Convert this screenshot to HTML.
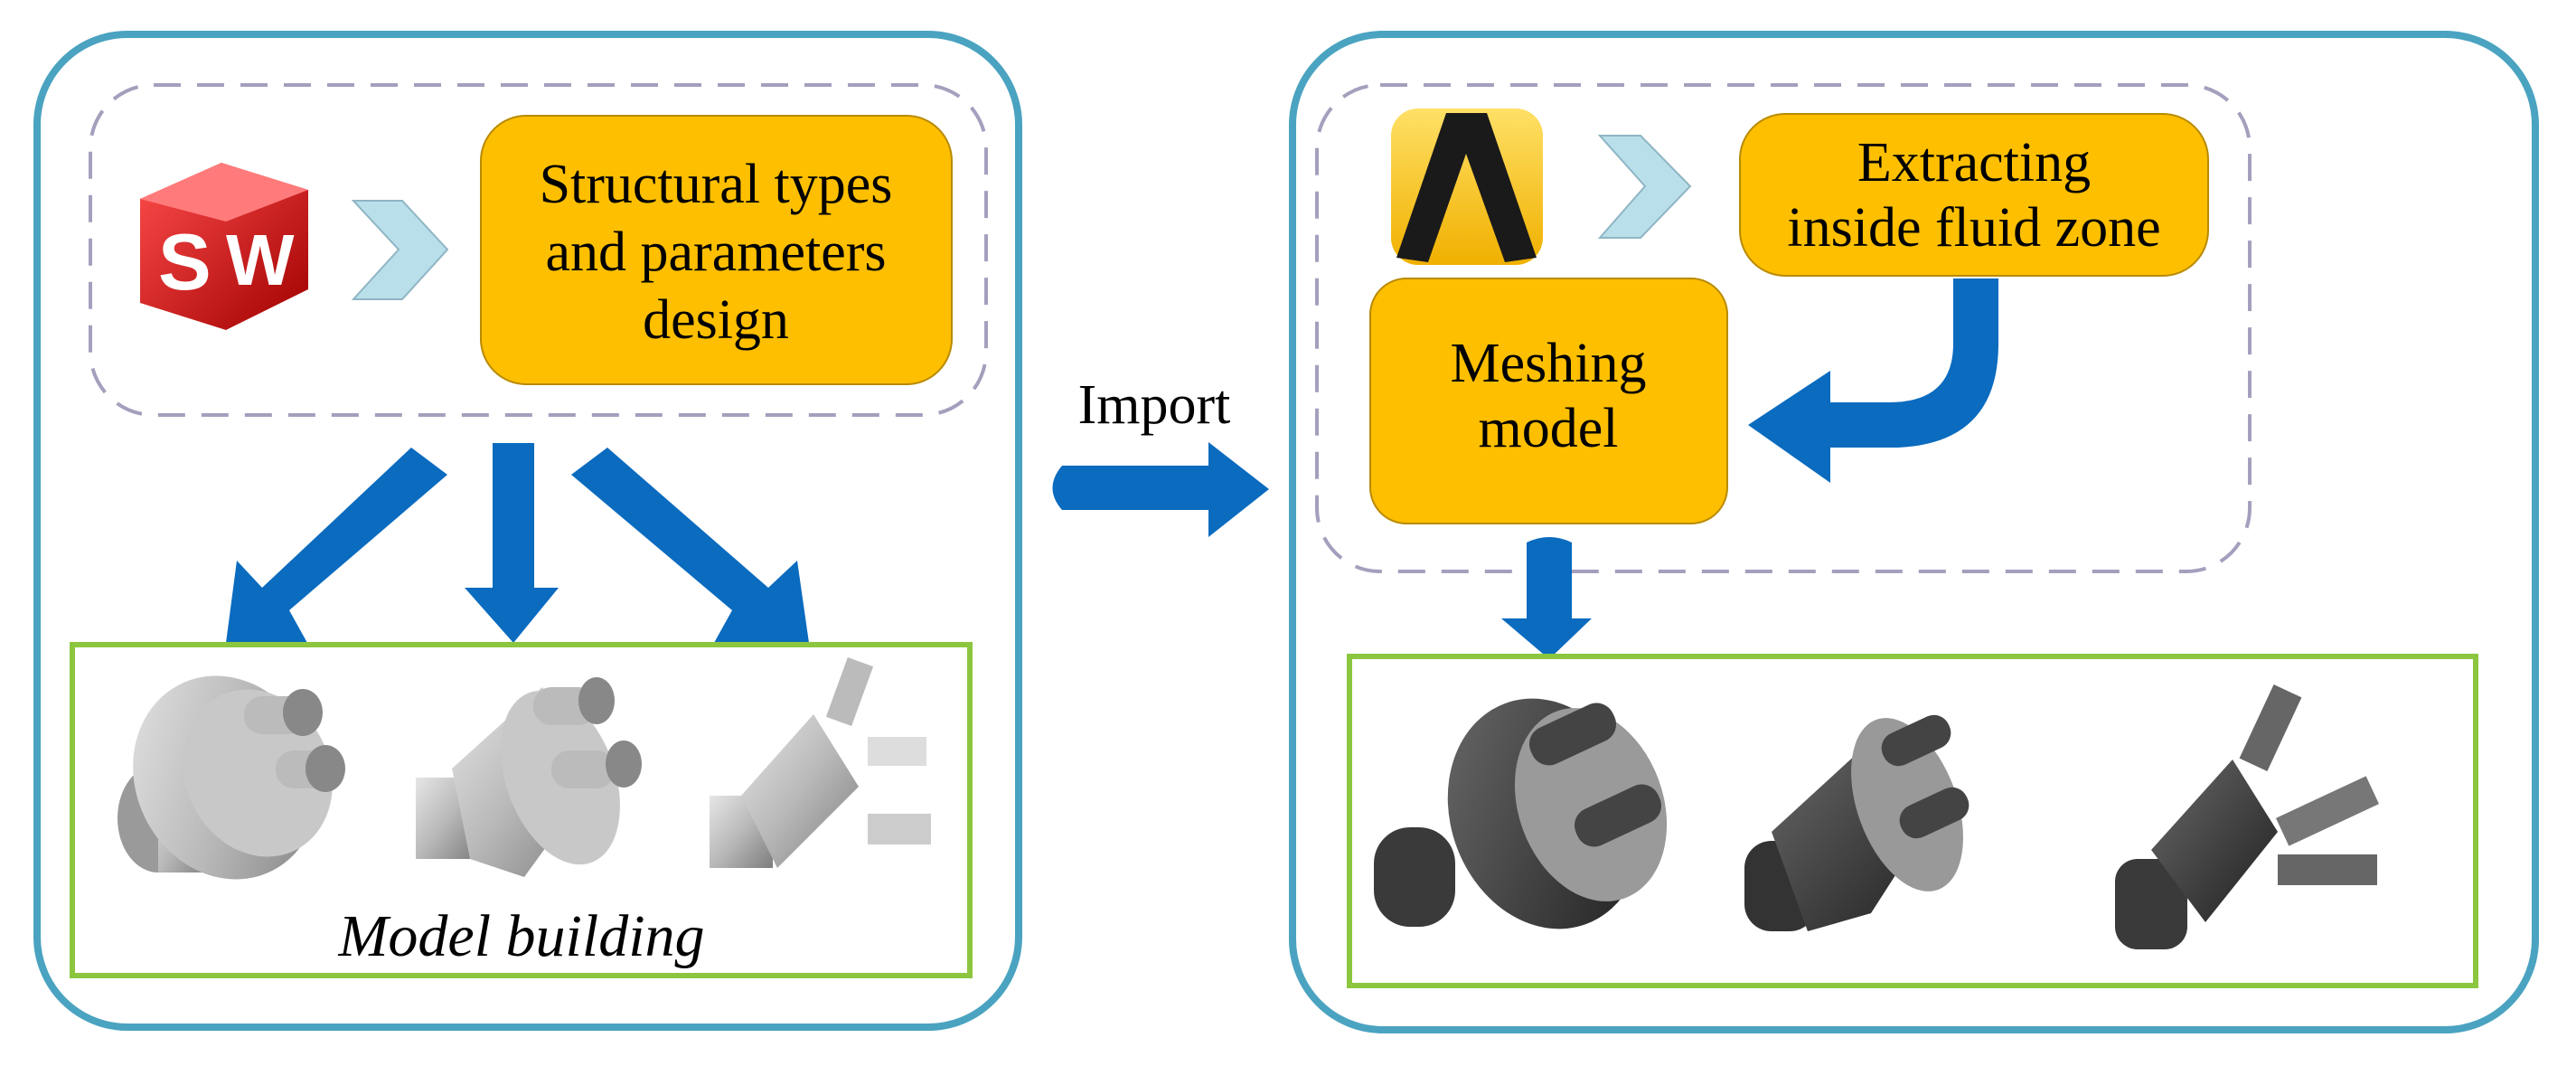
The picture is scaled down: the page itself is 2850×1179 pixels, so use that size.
<!DOCTYPE html>
<html><head><meta charset="utf-8"><style>
html,body{margin:0;padding:0;background:#fff;}
svg{display:block;}
text{font-family:"Liberation Serif",serif;fill:#000;}
</style></head><body>
<svg width="2850" height="1179" viewBox="0 0 2850 1179" xmlns="http://www.w3.org/2000/svg">
<defs>
<linearGradient id="g1" x1="0" y1="0" x2="1" y2="1"><stop offset="0" stop-color="#e6e6e6"/><stop offset="0.5" stop-color="#b9b9b9"/><stop offset="1" stop-color="#7d7d7d"/></linearGradient>
<linearGradient id="g2" x1="0" y1="0" x2="1" y2="1"><stop offset="0" stop-color="#6a6a6a"/><stop offset="1" stop-color="#1e1e1e"/></linearGradient>
<linearGradient id="sw" x1="0" y1="0" x2="1" y2="1"><stop offset="0" stop-color="#ff4d4d"/><stop offset="1" stop-color="#a00000"/></linearGradient>
<linearGradient id="ay" x1="0" y1="0" x2="0" y2="1"><stop offset="0" stop-color="#ffe066"/><stop offset="1" stop-color="#f0b000"/></linearGradient>
</defs>

<rect x="41" y="38" width="1086" height="1098" rx="100" fill="#fff" stroke="#4aa3c0" stroke-width="8"/>
<rect x="100" y="94" width="991" height="365" rx="70" fill="none" stroke="#a59fbd" stroke-width="4" stroke-dasharray="30,18"/>
<rect x="532" y="128" width="521" height="297" rx="50" fill="#fdbf00" stroke="#b98a00" stroke-width="2"/>
<text x="792" y="224" font-size="62" text-anchor="middle">Structural types</text>
<text x="792" y="299" font-size="62" text-anchor="middle">and parameters</text>
<text x="792" y="374" font-size="62" text-anchor="middle">design</text>
<polygon points="155,220 245,180 341,210 341,320 250,365 155,335" fill="url(#sw)"/>
<polygon points="155,220 245,180 341,210 250,245" fill="#ff7b7b"/>
<text x="175" y="320" font-size="88" font-weight="bold" style="fill:#fff;font-family:'Liberation Sans',sans-serif">S</text>
<text x="250" y="315" font-size="80" font-weight="bold" style="fill:#fff;font-family:'Liberation Sans',sans-serif">W</text>
<polygon points="391,222 445,222 495,276 445,331 391,331 441,276" fill="#b9dfea" stroke="#8fb5c4" stroke-width="2"/>
<g fill="#0a6bbf">
<polygon points="455,495 495,525 320,675 340,711 250,711 262,620 290,650"/>
<polygon points="545,490 591,490 591,650 618,650 568,711 514,650 545,650"/>
<polygon points="672,495 632,525 810,675 790,711 895,711 882,620 850,650"/>
</g>
<rect x="80" y="713" width="993" height="366" fill="#fff" stroke="#8cc63f" stroke-width="6"/>
<g>
<ellipse cx="175" cy="905" rx="45" ry="60" fill="#9a9a9a"/>
<rect x="175" y="845" width="60" height="120" fill="url(#g1)"/>
<ellipse cx="250" cy="860" rx="100" ry="115" fill="url(#g1)" transform="rotate(-25 250 860)"/>
<ellipse cx="285" cy="855" rx="80" ry="95" fill="#c8c8c8" transform="rotate(-25 285 855)"/>
<rect x="270" y="770" width="70" height="42" rx="20" fill="#bbb"/><ellipse cx="335" cy="788" rx="22" ry="26" fill="#888"/>
<rect x="305" y="830" width="70" height="42" rx="20" fill="#bbb"/><ellipse cx="360" cy="850" rx="22" ry="26" fill="#888"/>
<rect x="460" y="860" width="70" height="90" fill="url(#g1)"/>
<polygon points="500,850 600,760 660,860 580,970 520,950" fill="url(#g1)"/>
<ellipse cx="620" cy="860" rx="60" ry="100" fill="#c8c8c8" transform="rotate(-20 620 860)"/>
<rect x="590" y="760" width="70" height="42" rx="20" fill="#bbb"/><ellipse cx="660" cy="775" rx="20" ry="26" fill="#888"/>
<rect x="610" y="830" width="70" height="42" rx="20" fill="#bbb"/><ellipse cx="690" cy="845" rx="20" ry="26" fill="#888"/>
<rect x="785" y="880" width="70" height="80" fill="url(#g1)"/>
<polygon points="820,880 900,790 950,870 860,960" fill="url(#g1)"/>
<rect x="925" y="730" width="30" height="70" fill="#bbb" transform="rotate(20 940 765)"/>
<rect x="960" y="815" width="65" height="32" fill="#ddd"/>
<rect x="960" y="900" width="70" height="34" fill="#ccc"/>
</g>
<text x="577" y="1057" font-size="66" font-style="italic" text-anchor="middle">Model building</text>

<text x="1277" y="468" font-size="62" text-anchor="middle">Import</text>
<path d="M1175,515 L1337,515 L1337,489 L1404,541 L1337,594 L1337,564 L1175,564 Q1154,540 1175,515 Z" fill="#0a6bbf"/>

<rect x="1430" y="38" width="1375" height="1101" rx="100" fill="#fff" stroke="#4aa3c0" stroke-width="8"/>
<rect x="1457" y="94" width="1032" height="538" rx="70" fill="none" stroke="#a59fbd" stroke-width="4" stroke-dasharray="30,18"/>
<rect x="1539" y="120" width="168" height="173" rx="30" fill="url(#ay)"/>
<polygon points="1600,125 1645,125 1700,285 1665,290 1622,170 1580,290 1545,285" fill="#1a1a1a"/>
<polygon points="1770,150 1815,150 1870,206 1815,263 1770,263 1820,206" fill="#b9dfea" stroke="#8fb5c4" stroke-width="2"/>
<rect x="1925" y="126" width="518" height="179" rx="50" fill="#fdbf00" stroke="#b98a00" stroke-width="2"/>
<text x="2184" y="200" font-size="62" text-anchor="middle">Extracting</text>
<text x="2184" y="272" font-size="62" text-anchor="middle">inside fluid zone</text>
<rect x="1516" y="308" width="395" height="271" rx="40" fill="#fdbf00" stroke="#b98a00" stroke-width="2"/>
<text x="1713" y="422" font-size="62" text-anchor="middle">Meshing</text>
<text x="1713" y="494" font-size="62" text-anchor="middle">model</text>
<path d="M2161,308 L2211,308 L2211,380 Q2211,490 2100,495 L2025,495 L2025,534 L1934,470 L2025,410 L2025,445 L2090,445 Q2161,445 2161,380 Z" fill="#0a6bbf"/>
<path d="M1689,600 Q1714,588 1739,600 L1739,684 L1761,684 L1714,729 L1661,684 L1689,684 Z" fill="#0a6bbf"/>
<rect x="1493" y="726" width="1246" height="364" fill="#fff" stroke="#8cc63f" stroke-width="6"/>
<g>
<rect x="1520" y="915" width="90" height="110" rx="40" fill="#3a3a3a"/>
<ellipse cx="1710" cy="900" rx="105" ry="130" fill="url(#g2)" transform="rotate(-20 1710 900)"/>
<ellipse cx="1760" cy="890" rx="80" ry="110" fill="#9a9a9a" transform="rotate(-20 1760 890)"/>
<rect x="1690" y="790" width="100" height="44" rx="20" fill="#444" transform="rotate(-25 1740 812)"/>
<rect x="1740" y="880" width="100" height="44" rx="20" fill="#444" transform="rotate(-25 1790 902)"/>
<rect x="1930" y="930" width="80" height="100" rx="30" fill="#333"/>
<polygon points="1960,920 2080,810 2160,870 2070,1010 2000,1030" fill="url(#g2)"/>
<ellipse cx="2110" cy="890" rx="55" ry="100" fill="#999" transform="rotate(-20 2110 890)"/>
<rect x="2080" y="800" width="80" height="38" rx="18" fill="#444" transform="rotate(-25 2120 819)"/>
<rect x="2100" y="880" width="80" height="38" rx="18" fill="#444" transform="rotate(-25 2140 899)"/>
<rect x="2340" y="950" width="80" height="100" rx="25" fill="#3a3a3a"/>
<polygon points="2380,940 2470,840 2520,920 2440,1020" fill="url(#g2)"/>
<rect x="2495" y="760" width="34" height="90" fill="#666" transform="rotate(25 2512 805)"/>
<rect x="2520" y="880" width="110" height="34" fill="#777" transform="rotate(-25 2575 897)"/>
<rect x="2520" y="945" width="110" height="34" fill="#666"/>
</g>
</svg>
</body></html>
